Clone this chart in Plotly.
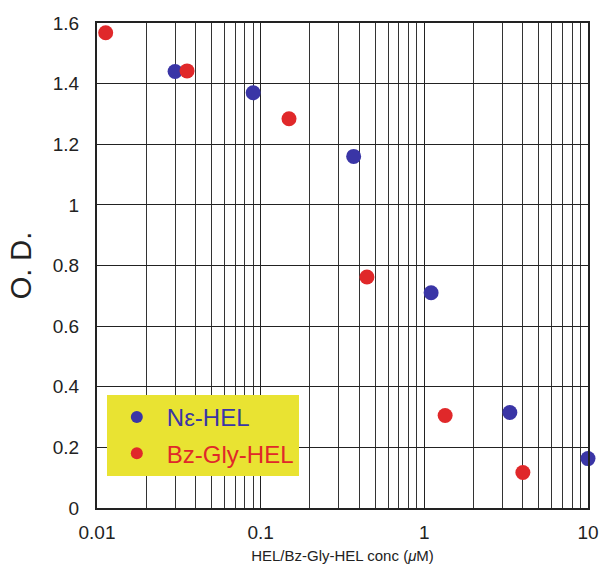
import plotly.graph_objects as go

ne_conc = [0.03, 0.09, 0.37, 1.1, 3.33, 10.0]
ne_od = [1.44, 1.37, 1.16, 0.71, 0.315, 0.163]
bz_conc = [0.0113, 0.0355, 0.149, 0.446, 1.34, 4.0]
bz_od = [1.568, 1.442, 1.284, 0.762, 0.305, 0.117]

x_ticks = [0.01, 0.1, 1, 10]
x_ticklabels = ["0.01", "0.1", "1", "10"]
y_ticks = [0, 0.2, 0.4, 0.6, 0.8, 1, 1.2, 1.4, 1.6]
y_ticklabels = ["0", "0.2", "0.4", "0.6", "0.8", "1", "1.2", "1.4", "1.6"]

BLUE = "#3a35a6"
RED = "#e0282a"
YELLOW = "#e9e332"

fig = go.Figure()
fig.add_trace(go.Scatter(
    x=ne_conc, y=ne_od, mode="markers",
    name=f"<span style='color:{BLUE}'>Nε-HEL</span>",
    legendgroup="a",
    marker=dict(size=15, color=BLUE), cliponaxis=False))
fig.add_trace(go.Scatter(
    x=bz_conc, y=bz_od, mode="markers",
    name=f"<span style='color:{RED}'>Bz-Gly-HEL</span>",
    legendgroup="b",
    marker=dict(size=15, color=RED), cliponaxis=False))

fig.update_layout(
    width=603, height=568,
    margin=dict(l=97, r=15, t=23, b=60, autoexpand=False),
    paper_bgcolor="white", plot_bgcolor="white",
    font=dict(family="Liberation Sans, Arial, sans-serif", color="#222"),
    showlegend=True,
    legend=dict(
        x=0.02, y=0.233, xanchor="left", yanchor="top",
        bgcolor=YELLOW, borderwidth=0,
        font=dict(size=24),
        traceorder="grouped", tracegroupgap=2,
        itemsizing="constant", itemwidth=50,
    ),
)
fig.update_xaxes(
    type="log", range=[-2, 1], automargin=False,
    tickvals=x_ticks, ticktext=x_ticklabels,
    tickfont=dict(size=19, color="#222"), ticklabelstandoff=6,
    showgrid=True, gridcolor="#222", gridwidth=1,
    minor=dict(showgrid=True, gridcolor="#333", gridwidth=1,
               tickvals=[m * 10 ** e for e in (-2, -1, 0) for m in range(2, 10)]),
    showline=True, linecolor="#222", linewidth=2, mirror=True,
    ticks="", zeroline=False,
    title=dict(text="HEL/Bz-Gly-HEL conc (<i>μ</i>M)", font=dict(size=15, color="#222"), standoff=9),
)
fig.update_yaxes(
    range=[0, 1.6], automargin=False,
    tickvals=y_ticks, ticktext=y_ticklabels,
    tickfont=dict(size=19, color="#222"), ticklabelstandoff=12,
    showgrid=True, gridcolor="#222", gridwidth=1,
    showline=True, linecolor="#222", linewidth=2, mirror=True,
    ticks="", zeroline=False,
    title=dict(text="O. D.", font=dict(size=29, color="#222"), standoff=13),
)

fig.write_html("out.html")
